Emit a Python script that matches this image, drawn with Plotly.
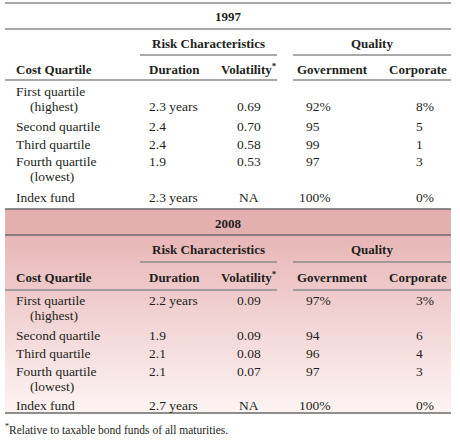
import plotly.graph_objects as go

# ---------------- data ----------------
categories = ["First quartile", "Second quartile", "Third quartile", "Fourth quartile", "Index fund"]
sublabels = ["(highest)", "", "", "(lowest)", ""]
years = ["1997", "2008"]
group_headers = ["Risk Characteristics", "Quality"]
column_headers = ["Cost Quartile", "Duration", "Volatility<sup>*</sup>", "Government", "Corporate"]

duration_1997 = ["2.3 years", "2.4", "2.4", "1.9", "2.3 years"]
volatility_1997 = ["0.69", "0.70", "0.58", "0.53", "NA"]
government_1997 = ["92%", "95", "99", "97", "100%"]
corporate_1997 = ["8%", "5", "1", "3", "0%"]

duration_2008 = ["2.2 years", "1.9", "2.1", "2.1", "2.7 years"]
volatility_2008 = ["0.09", "0.09", "0.08", "0.07", "NA"]
government_2008 = ["97%", "94", "96", "97", "100%"]
corporate_2008 = ["3%", "6", "4", "3", "0%"]

footnote = "<sup>*</sup>Relative to taxable bond funds of all maturities."

# ---------------- layout / style ----------------
W, H = 460, 442
LEFT, RIGHT = 5, 451
FONT = "Liberation Serif"
TXT = "#231f20"
BODY = 13.5
HEAD = 13
FOOT = 11.5
LINE_GRAY = "#8c8c8c"
LINE_DARK = "#6a6a6a"

X_LABEL, X_SUB = 15, 29
X_DUR = 148
X_VOL = 249
X_GOV = 332
X_CORP = 435
X_GOV_HEAD, X_CORP_HEAD = 332, 418
X_RISK, X_QUAL = 208, 372
RISK_SPAN = (140, 277)
QUAL_SPAN = (293, RIGHT)
X_TITLE = 228

sections = [
    dict(year=years[0], title_y=16, group_y=43, group_line=55, head_y=69, head_line=80,
         label_y=[91, 126, 144, 161, 197], value_y=[106, 126, 144, 161, 197], sub_dy=15,
         dur=duration_1997, vol=volatility_1997, gov=government_1997, corp=corporate_1997),
    dict(year=years[1], title_y=223, group_y=249, group_line=262, head_y=277, head_line=290,
         label_y=[300, 335, 353, 371, 405], value_y=[300, 335, 353, 371, 405], sub_dy=15,
         dur=duration_2008, vol=volatility_2008, gov=government_2008, corp=corporate_2008),
]

fig = go.Figure()

# gradient background of the 2008 body
BAND_TOP, BAND_BOT, BODY_BOT = 209, 235, 413
fig.add_trace(go.Scatter(
    x=[LEFT, RIGHT, RIGHT, LEFT, LEFT], y=[BAND_BOT, BAND_BOT, BODY_BOT, BODY_BOT, BAND_BOT],
    mode="lines", line=dict(width=0), fill="toself", hoverinfo="skip", showlegend=False,
    fillgradient=dict(type="vertical", start=BAND_BOT, stop=BODY_BOT,
                      colorscale=[[0, "#e8b6b6"], [0.45, "#f2d2d2"], [1, "#fdf4f4"]]),
))

shapes = []


def hline(y, x0=LEFT, x1=RIGHT, color=LINE_GRAY, w=1.5):
    shapes.append(dict(type="line", xref="x", yref="y", x0=x0, x1=x1, y0=y, y1=y,
                       line=dict(color=color, width=w), layer="above"))


# 2008 title band
shapes.append(dict(type="rect", xref="x", yref="y", x0=LEFT, x1=RIGHT, y0=BAND_TOP, y1=BAND_BOT,
                   fillcolor="#e4afaf", line=dict(width=0), layer="below"))

hline(3)
hline(29)
hline(BAND_TOP, color=LINE_DARK)
hline(BAND_BOT, color=LINE_DARK)
hline(BODY_BOT, color=LINE_DARK)

ann = []


def text(x, y, s, anchor="left", bold=False, size=None):
    ann.append(dict(x=x, y=y, xref="x", yref="y", text=("<b>%s</b>" % s) if bold else s,
                    showarrow=False, xanchor=anchor, yanchor="middle", borderpad=0,
                    font=dict(family=FONT, size=size or (HEAD if bold else BODY), color=TXT)))


def pad_percent(v):
    # keep the digits aligned: rows without a % sign get an invisible one
    if v.endswith("%"):
        return v
    return v + "<span style='color:rgba(0,0,0,0)'>%</span>"


for sec in sections:
    text(X_TITLE, sec["title_y"], sec["year"], "center", bold=True)
    text(X_RISK, sec["group_y"], group_headers[0], "center", bold=True)
    text(X_QUAL, sec["group_y"], group_headers[1], "center", bold=True)
    hline(sec["group_line"], *RISK_SPAN)
    hline(sec["group_line"], *QUAL_SPAN)
    text(X_LABEL, sec["head_y"], column_headers[0], "left", bold=True)
    text(X_DUR, sec["head_y"], column_headers[1], "left", bold=True)
    text(X_VOL, sec["head_y"], column_headers[2], "center", bold=True)
    text(X_GOV_HEAD, sec["head_y"], column_headers[3], "center", bold=True)
    text(X_CORP_HEAD, sec["head_y"], column_headers[4], "center", bold=True)
    hline(sec["head_line"], LEFT, RISK_SPAN[1])
    hline(sec["head_line"], QUAL_SPAN[0], RIGHT)

    for i, cat in enumerate(categories):
        ly = sec["label_y"][i]
        vy = sec["value_y"][i]
        text(X_LABEL, ly, cat)
        if sublabels[i]:
            text(X_SUB, ly + sec["sub_dy"], sublabels[i])
        text(X_DUR, vy, sec["dur"][i])
        text(X_VOL, vy, sec["vol"][i], "center")
        text(X_GOV, vy, pad_percent(sec["gov"][i]), "right")
        text(X_CORP, vy, pad_percent(sec["corp"][i]), "right")

text(LEFT - 1, 429, footnote, "left", size=FOOT)

fig.update_layout(
    width=W, height=H, margin=dict(l=0, r=0, t=0, b=0),
    paper_bgcolor="white", plot_bgcolor="white",
    xaxis=dict(range=[0, W], visible=False, fixedrange=True),
    yaxis=dict(range=[H, 0], visible=False, fixedrange=True),
    shapes=shapes, annotations=ann, showlegend=False,
)

fig.write_html("out.html", config={"displayModeBar": False},
               post_script="document.body.style.margin='0';document.body.style.overflow='hidden';")
